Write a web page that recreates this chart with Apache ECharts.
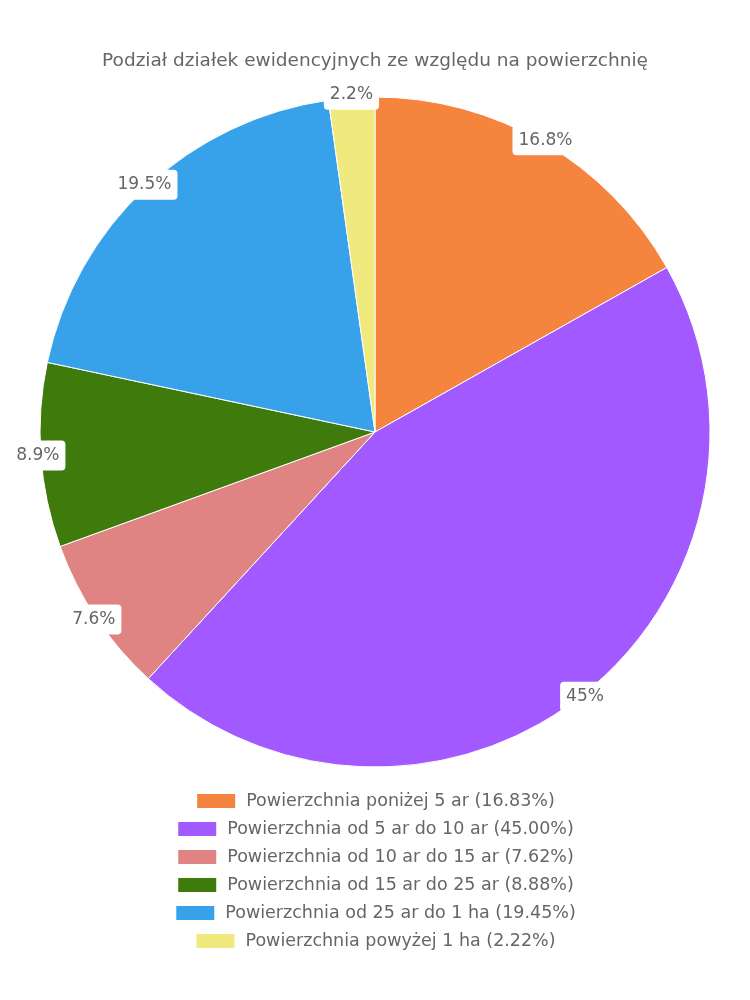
<!DOCTYPE html>
<html><head><meta charset="utf-8">
<script src="https://cdn.jsdelivr.net/npm/echarts@6/dist/echarts.min.js"></script>
<style>html,body{margin:0;padding:0;background:#fff}#c{width:750px;height:1000px}</style>
</head><body><div id="c"></div>
<script>
const title = 'Podział działek ewidencyjnych ze względu na powierzchnię';
const categories = ['Powierzchnia poniżej 5 ar','Powierzchnia od 5 ar do 10 ar','Powierzchnia od 10 ar do 15 ar','Powierzchnia od 15 ar do 25 ar','Powierzchnia od 25 ar do 1 ha','Powierzchnia powyżej 1 ha'];
const values = [16.83, 45.00, 7.62, 8.88, 19.45, 2.22];
const colors = ['#f5843f','#a259ff','#e08383','#3e7b0c','#37a2ea','#f0e97e'];

const FONT = 'DejaVu Sans';
const R = 335, CX = 375, CY = 432;
const legendTops = [787, 815, 843, 871, 899, 927];

const data = categories.map((c, i) => ({name: c, value: values[i], itemStyle: {color: colors[i]}}));
const total = values.reduce((a, b) => a + b, 0);
const legendName = n => { const i = categories.indexOf(n); return n + ' (' + values[i].toFixed(2) + '%)'; };
const pct = v => Math.round(v / total * 1000 + 1e-6) / 10;

const chart = echarts.init(document.getElementById('c'), null, {renderer: 'canvas'});
chart.setOption({
  animation: false,
  color: colors,
  title: {text: title, left: 'center', top: 47, textStyle: {fontFamily: FONT, fontSize: 18.5, fontWeight: 'normal', color: '#666'}},
  legend: categories.map((c, i) => ({
    data: [c], left: 'center', top: legendTops[i], orient: 'horizontal',
    itemWidth: 40, itemHeight: 16, itemGap: 10, icon: 'rect',
    formatter: legendName,
    textStyle: {fontFamily: FONT, fontSize: 17.5, color: '#666', padding: [0, 0, 0, 5]}
  })),
  series: [
    {
      type: 'pie', center: [CX, CY], radius: [0, R], startAngle: 90, clockwise: true,
      data: data,
      itemStyle: {borderColor: '#fff', borderWidth: 1},
      label: {show: false}, labelLine: {show: false}, emphasis: {disabled: true}
    },
    {
      type: 'pie', center: [CX, CY], radius: [R - 4, R + 4], startAngle: 90, clockwise: true,
      silent: true, legendHoverLink: false,
      data: data.map(d => ({name: d.name, value: d.value, itemStyle: {color: 'rgba(0,0,0,0)'}})),
      itemStyle: {borderWidth: 0},
      label: {
        show: true, position: 'inside', rotate: 0,
        formatter: p => pct(p.value) + '%',
        fontFamily: FONT, fontSize: 17, color: '#666',
        backgroundColor: '#fff', borderRadius: 4, padding: [7, 6, 6, 6]
      },
      labelLine: {show: false}, emphasis: {disabled: true}
    }
  ]
});
</script></body></html>
